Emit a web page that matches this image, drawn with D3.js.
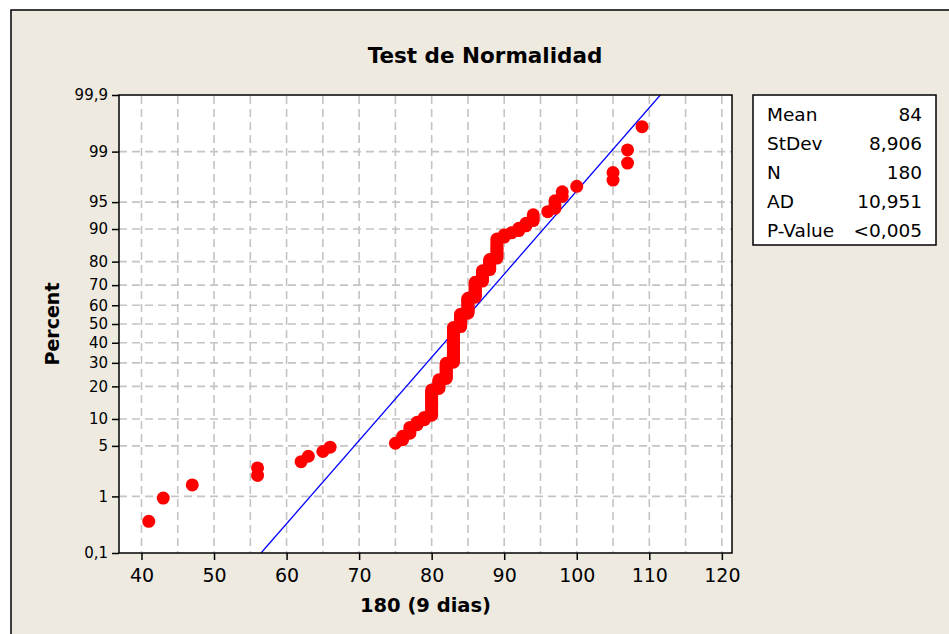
<!DOCTYPE html>
<html>
<head>
<meta charset="utf-8">
<script src="https://cdn.jsdelivr.net/npm/d3@7"></script>
<style>
  body { margin: 0; background: #fff; }
  text { font-family: "DejaVu Sans", sans-serif; fill: #000; }
</style>
</head>
<body>
<div id="chart"></div>
<script>
// observed values (sorted) and how many times each occurs
const values = [41, 43, 47, 56, 62, 63, 65, 66, 75, 76, 77, 78, 79, 80, 81, 82, 83, 84, 85, 86, 87, 88, 89, 90, 91, 92, 93, 94, 96, 97, 98, 100, 105, 107, 109];
const counts = [1, 1, 1, 2, 1, 1, 1, 1, 1, 2, 3, 2, 2, 15, 7, 13, 33, 13, 15, 14, 9, 8, 12, 2, 1, 2, 2, 3, 1, 3, 2, 1, 2, 2, 1];
const fitMean = 84;
const fitStDev = 8.906;
const statLabels = ["Mean", "StDev", "N", "AD", "P-Value"];
const statValues = ["84", "8,906", "180", "10,951", "<0,005"];
const xTicks = [40, 50, 60, 70, 80, 90, 100, 110, 120];
const xGrid = [40, 45, 50, 55, 60, 65, 70, 75, 80, 85, 90, 95, 100, 105, 110, 115, 120];
const yTicks = [0.1, 1, 5, 10, 20, 30, 40, 50, 60, 70, 80, 90, 95, 99, 99.9];
const yTickLabels = ["0,1", "1", "5", "10", "20", "30", "40", "50", "60", "70", "80", "90", "95", "99", "99,9"];

const SIZE = {width: 949, height: 634};
const PLOT = {left: 119, right: 732, top: 95, bottom: 553};
const BG = "#eeeae0";

// inverse normal cdf (Acklam)
function probit(p) {
  const a = [-3.969683028665376e+01, 2.209460984245205e+02, -2.759285104469687e+02, 1.383577518672690e+02, -3.066479806614716e+01, 2.506628277459239e+00];
  const b = [-5.447609879822406e+01, 1.615858368580409e+02, -1.556989798598866e+02, 6.680131188771972e+01, -1.328068155288572e+01];
  const c = [-7.784894002430293e-03, -3.223964580411365e-01, -2.400758277161838e+00, -2.549732539343734e+00, 4.374664141464968e+00, 2.938163982698783e+00];
  const d = [7.784695709041462e-03, 3.224671290700398e-01, 2.445134137142996e+00, 3.754408661907416e+00];
  const pl = 0.02425;
  if (p < pl) {
    const q = Math.sqrt(-2 * Math.log(p));
    return (((((c[0]*q+c[1])*q+c[2])*q+c[3])*q+c[4])*q+c[5]) / ((((d[0]*q+d[1])*q+d[2])*q+d[3])*q+1);
  }
  if (p > 1 - pl) {
    const q = Math.sqrt(-2 * Math.log(1 - p));
    return -(((((c[0]*q+c[1])*q+c[2])*q+c[3])*q+c[4])*q+c[5]) / ((((d[0]*q+d[1])*q+d[2])*q+d[3])*q+1);
  }
  const q = p - 0.5, r = q * q;
  return (((((a[0]*r+a[1])*r+a[2])*r+a[3])*r+a[4])*r+a[5])*q / (((((b[0]*r+b[1])*r+b[2])*r+b[3])*r+b[4])*r+1);
}

function initialize() {
  const svg = d3.select("div#chart").append("svg")
      .attr("width", SIZE.width)
      .attr("height", SIZE.height)
      .style("display", "block");

  svg.append("rect").attr("x", 11).attr("y", 10)
      .attr("width", SIZE.width + 20).attr("height", SIZE.height + 20)
      .attr("fill", BG).attr("stroke", "#000").attr("stroke-width", 1.5);

  const xScale = d3.scaleLinear().domain([36.9, 121.4]).range([PLOT.left, PLOT.right]);
  const yScale = d3.scaleLinear().domain([probit(0.001), probit(0.999)]).range([PLOT.bottom, PLOT.top]);

  svg.append("rect").attr("x", PLOT.left).attr("y", PLOT.top)
      .attr("width", PLOT.right - PLOT.left).attr("height", PLOT.bottom - PLOT.top)
      .attr("fill", "#fff");

  // grid
  const grid = svg.append("g").attr("stroke", "#c4c4c4").attr("stroke-width", 1.6).attr("stroke-dasharray", "8,5");
  grid.selectAll("line.v").data(xGrid).join("line").attr("class", "v")
      .attr("x1", d => xScale(d)).attr("x2", d => xScale(d))
      .attr("y1", PLOT.top + 1).attr("y2", PLOT.bottom);
  grid.selectAll("line.h").data(yTicks.slice(1, -1)).join("line").attr("class", "h")
      .attr("y1", d => yScale(probit(d / 100))).attr("y2", d => yScale(probit(d / 100)))
      .attr("x1", PLOT.left).attr("x2", PLOT.right);

  // fitted line
  const zLo = probit(0.001), zHi = probit(0.999);
  svg.append("defs").append("clipPath").attr("id", "clip").append("rect")
      .attr("x", PLOT.left).attr("y", PLOT.top)
      .attr("width", PLOT.right - PLOT.left).attr("height", PLOT.bottom - PLOT.top);
  svg.append("line").attr("clip-path", "url(#clip)")
      .attr("x1", xScale(fitMean + zLo * fitStDev)).attr("y1", yScale(zLo))
      .attr("x2", xScale(fitMean + zHi * fitStDev)).attr("y2", yScale(zHi))
      .attr("stroke", "#0000ff").attr("stroke-width", 1.3);

  // points at median-rank plotting positions
  const obs = [];
  values.forEach((v, k) => { for (let j = 0; j < counts[k]; j++) obs.push(v); });
  const n = obs.length;
  const pts = obs.map((v, i) => ({x: v, p: (i + 1 - 0.3) / (n + 0.4)}));
  svg.append("g").selectAll("circle").data(pts).join("circle")
      .attr("cx", d => xScale(d.x)).attr("cy", d => yScale(probit(d.p)))
      .attr("r", 6.5).attr("fill", "#ff0000");

  // frame of the plot
  svg.append("rect").attr("x", PLOT.left).attr("y", PLOT.top)
      .attr("width", PLOT.right - PLOT.left).attr("height", PLOT.bottom - PLOT.top)
      .attr("fill", "none").attr("stroke", "#000").attr("stroke-width", 1.5);

  // axes
  const xAxis = svg.append("g").attr("transform", `translate(0, ${PLOT.bottom})`)
      .call(d3.axisBottom(xScale).tickValues(xTicks).tickSize(7).tickSizeOuter(0).tickPadding(9));
  xAxis.select(".domain").remove();
  xAxis.selectAll("line").attr("stroke-width", 1.5);
  xAxis.selectAll("text").style("font-size", "19px").style("font-family", "DejaVu Sans");

  const yAxis = svg.append("g").attr("transform", `translate(${PLOT.left}, 0)`)
      .call(d3.axisLeft(yScale)
              .tickValues(yTicks.map(p => probit(p / 100)))
              .tickFormat((d, i) => yTickLabels[i])
              .tickSize(7).tickSizeOuter(0).tickPadding(4));
  yAxis.select(".domain").remove();
  yAxis.selectAll("line").attr("stroke-width", 1.5);
  yAxis.selectAll("text").style("font-size", "15px").style("font-family", "DejaVu Sans");

  // titles
  svg.append("text").attr("x", 485).attr("y", 63).attr("text-anchor", "middle")
      .style("font-size", "21.5px").style("font-weight", "bold").text("Test de Normalidad");
  svg.append("text").attr("x", (PLOT.left + PLOT.right) / 2).attr("y", 612).attr("text-anchor", "middle")
      .style("font-size", "19.5px").style("font-weight", "bold").text("180 (9 dias)");
  svg.append("text").attr("transform", `translate(59, ${(PLOT.top + PLOT.bottom) / 2}) rotate(-90)`)
      .attr("text-anchor", "middle")
      .style("font-size", "19px").style("font-weight", "bold").text("Percent");

  // stats box
  const box = svg.append("g");
  box.append("rect").attr("x", 753).attr("y", 95).attr("width", 183).attr("height", 150)
      .attr("fill", "#fff").attr("stroke", "#000").attr("stroke-width", 1.5);
  statLabels.forEach((lab, i) => {
    box.append("text").attr("x", 767).attr("y", 121 + i * 29)
        .style("font-size", "18.5px").text(lab);
    box.append("text").attr("x", 922).attr("y", 121 + i * 29).attr("text-anchor", "end")
        .style("font-size", "18.5px").text(statValues[i]);
  });
}

initialize();
</script>
</body>
</html>
